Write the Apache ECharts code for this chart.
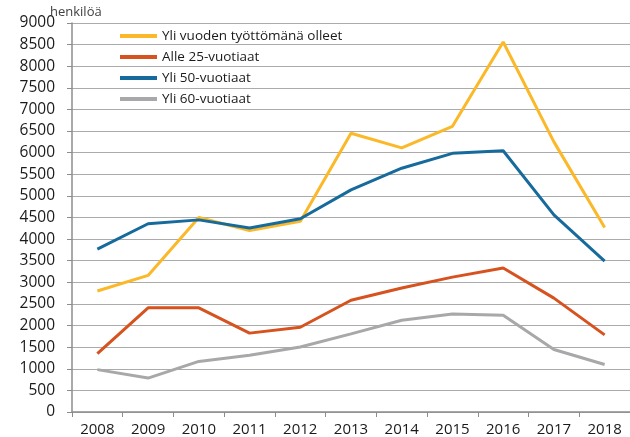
<!DOCTYPE html>
<html>
<head>
<meta charset="utf-8">
<script src="https://cdn.jsdelivr.net/npm/echarts@6/dist/echarts.min.js"></script>
<style>html,body{margin:0;padding:0;background:#fff}#c{width:630px;height:437px}</style>
</head>
<body>
<div id="c"></div>
<script>
const years = ['2008','2009','2010','2011','2012','2013','2014','2015','2016','2017','2018'];
const yliVuoden = [2800, 3160, 4500, 4200, 4410, 6450, 6110, 6610, 8560, 6250, 4270];
const alle25 = [1350, 2410, 2410, 1825, 1960, 2585, 2870, 3120, 3330, 2635, 1785];
const yli50 = [3770, 4355, 4445, 4255, 4470, 5140, 5640, 5985, 6045, 4560, 3490];
const yli60 = [980, 785, 1170, 1315, 1505, 1808, 2122, 2268, 2238, 1446, 1100];
const seriesNames = ['Yli vuoden työttömänä olleet', 'Alle 25-vuotiaat', 'Yli 50-vuotiaat', 'Yli 60-vuotiaat'];
const yTicks = {min: 0, max: 9000, interval: 500};

const colors = ['#FBB828', '#D6521E', '#176B9C', '#A8A8AA'];
const font = 'Open Sans';
const chart = echarts.init(document.getElementById('c'));
const data = [yliVuoden, alle25, yli50, yli60];
chart.setOption({
  animation: false,
  title: {text: 'henkilöä', left: 50, top: 6, padding: 0, textStyle: {fontSize: 13, fontWeight: 'normal', color: '#404040', fontFamily: font}},
  legend: {
    orient: 'vertical', left: 120, top: 29, padding: 0, itemWidth: 37, itemHeight: 4, itemGap: 7,
    icon: 'rect',
    textStyle: {fontSize: 13.5, color: '#1a1a1a', fontFamily: font},
    data: seriesNames
  },
  grid: {left: 72, right: 0, top: 23, bottom: 25, containLabel: false},
  xAxis: {
    type: 'category', data: years, boundaryGap: true,
    axisLine: {lineStyle: {color: '#8c8c8c', width: 1.5}},
    axisTick: {show: true, length: 5, lineStyle: {color: '#8c8c8c'}},
    axisLabel: {fontSize: 15, color: '#1a1a1a', fontFamily: font, margin: 10}
  },
  yAxis: {
    type: 'value', min: yTicks.min, max: yTicks.max, interval: yTicks.interval,
    axisLine: {show: true, lineStyle: {color: '#8c8c8c', width: 1.5}},
    axisTick: {show: true, length: 5, lineStyle: {color: '#8c8c8c'}},
    axisLabel: {fontSize: 15.5, color: '#1a1a1a', fontFamily: font, margin: 17, formatter: v => String(v)},
    splitLine: {lineStyle: {color: '#ababab', width: 1}}
  },
  series: seriesNames.map((n, i) => ({
    name: n, type: 'line', data: data[i], symbol: 'none',
    lineStyle: {color: colors[i], width: 3}, itemStyle: {color: colors[i]}
  }))
});
</script>
</body>
</html>
